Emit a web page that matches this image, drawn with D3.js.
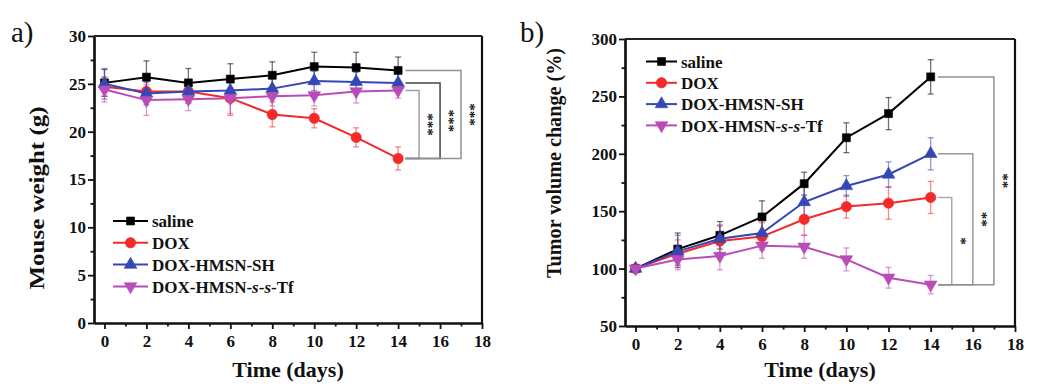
<!DOCTYPE html>
<html><head><meta charset="utf-8">
<script src="https://cdn.jsdelivr.net/npm/d3@7"></script>
<style>
body{margin:0;background:#fff}
svg{display:block}
text{font-family:"Liberation Serif","Times New Roman",serif;font-weight:bold;fill:#111}
</style>
</head><body>
<svg id="c" width="1040" height="385"></svg>
<script>
// ---------- data ----------
const days = [0, 2, 4, 6, 8, 10, 12, 14];
const seriesNames = ["saline", "DOX", "DOX-HMSN-SH", "DOX-HMSN-s-s-Tf"];
const seriesColors = ["#000000", "#f22a2a", "#3447b4", "#b84cb8"];

// panel a: mouse weight (g)
const weightSaline = [25.1, 25.7, 25.1, 25.5, 25.9, 26.8, 26.7, 26.4];
const weightSalineErr = [1.4, 1.7, 1.5, 1.6, 1.4, 1.5, 1.6, 1.4];
const weightDOX = [24.7, 24.2, 24.2, 23.5, 21.8, 21.4, 19.4, 17.2];
const weightDOXErr = [1.0, 1.0, 1.2, 1.8, 1.3, 1.0, 1.0, 1.2];
const weightSH = [25.0, 24.0, 24.2, 24.3, 24.5, 25.3, 25.2, 25.1];
const weightSHErr = [1.6, 1.2, 1.2, 1.2, 1.0, 1.0, 1.0, 1.0];
const weightTf = [24.4, 23.3, 23.4, 23.5, 23.7, 23.8, 24.2, 24.3];
const weightTfErr = [1.3, 1.6, 1.2, 1.6, 1.0, 1.1, 1.2, 0.8];

// panel b: tumor volume change (%)
const tumorSaline = [100, 117, 129, 145, 174, 214, 235, 267];
const tumorSalineErr = [3, 14, 12, 14, 10, 13, 14, 15];
const tumorDOX = [100, 113, 124, 128, 143, 154, 157, 162];
const tumorDOXErr = [3, 12, 13, 12, 14, 10, 14, 14];
const tumorSH = [100, 115, 126, 131, 158, 172, 182, 200];
const tumorSHErr = [3, 14, 12, 12, 13, 9, 11, 14];
const tumorTf = [100, 108, 111, 120, 119, 108, 92, 86];
const tumorTfErr = [3, 9, 12, 11, 10, 10, 9, 8];

// tick labels
const xTicks = [0, 2, 4, 6, 8, 10, 12, 14, 16, 18];
const xMinor = [1, 3, 5, 7, 9, 11, 13, 15, 17];
const weightTicks = [0, 5, 10, 15, 20, 25, 30];
const weightMinor = [2.5, 7.5, 12.5, 17.5, 22.5, 27.5];
const tumorTicks = [50, 100, 150, 200, 250, 300];
const tumorMinor = [75, 125, 175, 225, 275];

// significance: [top series index, bottom series index, bracket x (days), label]
const weightSig = [[3, 1, 15, "***"], [2, 1, 16, "***"], [0, 1, 17, "***"]];
const tumorSig = [[1, 3, 15, "*"], [2, 3, 16, "**"], [0, 3, 17, "**"]];

// ---------- drawing ----------
const svg = d3.select("#c");
const symbols = [d3.symbolSquare, d3.symbolCircle, d3.symbolTriangle, d3.symbolTriangle];
const symbolSizes = [64, 85, 70, 70];
const symbolRot = [0, 0, 0, 180];

function marker(g, i, x, y) {
  g.append("path")
    .attr("d", d3.symbol().type(symbols[i]).size(symbolSizes[i])())
    .attr("transform", `translate(${x},${y}) rotate(${symbolRot[i]})`)
    .attr("fill", seriesColors[i]).attr("stroke", seriesColors[i]).attr("stroke-width", 0.6);
}

function panel(cfg) {
  const x = d3.scaleLinear().domain([-0.5, 18]).range([cfg.left, cfg.right]);
  const y = d3.scaleLinear().domain(cfg.yDomain).range([cfg.bottom, cfg.top]);
  const g = svg.append("g");

  // axes
  const xa = g.append("g").attr("transform", `translate(0,${cfg.bottom})`)
    .call(d3.axisBottom(x).tickValues(xTicks).tickSize(6).tickSizeOuter(0).tickPadding(6));
  const xm = g.append("g").attr("transform", `translate(0,${cfg.bottom})`)
    .call(d3.axisBottom(x).tickValues(xMinor).tickSize(3.5).tickSizeOuter(0).tickFormat(""));
  const ya = g.append("g").attr("transform", `translate(${cfg.left},0)`)
    .call(d3.axisLeft(y).tickValues(cfg.yTicks).tickSize(6).tickSizeOuter(0).tickPadding(2));
  const ym = g.append("g").attr("transform", `translate(${cfg.left},0)`)
    .call(d3.axisLeft(y).tickValues(cfg.yMinor).tickSize(3.5).tickSizeOuter(0).tickFormat(""));
  [xa, xm, ya, ym].forEach(a => {
    a.selectAll(".domain").attr("stroke", "#111").attr("stroke-width", 2.2);
    a.selectAll(".tick line").attr("stroke", "#111").attr("stroke-width", 1.8);
    a.selectAll("text").attr("font-size", 17).attr("font-family", '"Liberation Serif",serif')
      .attr("font-weight", "bold").attr("fill", "#111");
  });
  // top and right frame
  g.append("line").attr("x1", cfg.left).attr("x2", x(18)).attr("y1", cfg.top).attr("y2", cfg.top)
    .attr("stroke", "#222").attr("stroke-width", 2);
  g.append("line").attr("x1", x(18)).attr("x2", x(18)).attr("y1", cfg.top).attr("y2", cfg.bottom)
    .attr("stroke", "#111").attr("stroke-width", 2.2);

  // significance brackets
  cfg.sig.forEach((s, k) => {
    const [ti, bi, bx, lab] = s;
    const yt = y(cfg.data[ti][7]), yb = y(cfg.data[bi][7]);
    const xs = x(14.35), xb = x(bx);
    const col = cfg.sigColors[k];
    g.append("path").attr("d", `M${xs},${yt}H${xb}V${yb}H${xs}`)
      .attr("fill", "none").attr("stroke", col).attr("stroke-width", 1.5);
    g.append("text").attr("transform", `translate(${xb + 4},${(yt + yb) / 2}) rotate(90)`)
      .attr("text-anchor", "middle").attr("font-size", 15).text(lab);
  });

  // error bars, lines, markers
  cfg.data.forEach((vals, i) => {
    const err = cfg.err[i];
    const eg = g.append("g").attr("stroke", seriesColors[i]).attr("stroke-opacity", 0.55).attr("stroke-width", 1.3);
    days.forEach((d, j) => {
      const cx = x(d), y1 = y(vals[j] - err[j]), y2 = y(vals[j] + err[j]);
      eg.append("line").attr("x1", cx).attr("x2", cx).attr("y1", y1).attr("y2", y2);
      eg.append("line").attr("x1", cx - 3).attr("x2", cx + 3).attr("y1", y1).attr("y2", y1);
      eg.append("line").attr("x1", cx - 3).attr("x2", cx + 3).attr("y1", y2).attr("y2", y2);
    });
  });
  cfg.data.forEach((vals, i) => {
    const line = d3.line().x((d, j) => x(days[j])).y(d => y(d));
    g.append("path").datum(vals).attr("d", line).attr("fill", "none")
      .attr("stroke", seriesColors[i]).attr("stroke-width", 2);
    vals.forEach((v, j) => marker(g, i, x(days[j]), y(v)));
  });

  // legend
  seriesNames.forEach((name, i) => {
    const ly = cfg.leg.y + i * cfg.leg.dy;
    g.append("line").attr("x1", cfg.leg.x1).attr("x2", cfg.leg.x2).attr("y1", ly).attr("y2", ly)
      .attr("stroke", seriesColors[i]).attr("stroke-width", 2);
    marker(g, i, (cfg.leg.x1 + cfg.leg.x2) / 2, ly);
    const t = g.append("text").attr("x", cfg.leg.x2 + 4).attr("y", ly).attr("dy", "0.36em").attr("font-size", 17);
    if (name.includes("-s-s-")) {
      t.append("tspan").text("DOX-HMSN-");
      t.append("tspan").attr("font-style", "italic").text("s");
      t.append("tspan").text("-");
      t.append("tspan").attr("font-style", "italic").text("s");
      t.append("tspan").text("-Tf");
    } else t.text(name);
  });

  // titles
  g.append("text").attr("x", (cfg.left + x(18)) / 2).attr("y", 377).attr("text-anchor", "middle")
    .attr("font-size", 22).text("Time (days)");
  g.append("text").attr("transform", `translate(${cfg.yt.x},${cfg.yt.y}) rotate(-90)`)
    .attr("text-anchor", "middle").attr("font-size", cfg.yt.fs)
    .attr("textLength", cfg.yt.len).attr("lengthAdjust", "spacingAndGlyphs").text(cfg.yTitle);
  g.append("text").attr("x", cfg.lab.x).attr("y", cfg.lab.y).attr("font-size", 29)
    .style("font-weight", "normal").text(cfg.label);
}

panel({
  left: 94, right: 482, top: 36, bottom: 323, yDomain: [0, 30],
  yTicks: weightTicks, yMinor: weightMinor,
  data: [weightSaline, weightDOX, weightSH, weightTf],
  err: [weightSalineErr, weightDOXErr, weightSHErr, weightTfErr],
  sig: weightSig, sigColors: ["#a0a0a0", "#444444", "#909090"],
  leg: {x1: 113, x2: 148, y: 221, dy: 21.8},
  yTitle: "Mouse weight (g)", yt: {x: 44, y: 198, fs: 22, len: 183},
  label: "a)", lab: {x: 11, y: 42}
});
panel({
  left: 625, right: 1015, top: 39, bottom: 326, yDomain: [50, 300],
  yTicks: tumorTicks, yMinor: tumorMinor,
  data: [tumorSaline, tumorDOX, tumorSH, tumorTf],
  err: [tumorSalineErr, tumorDOXErr, tumorSHErr, tumorTfErr],
  sig: tumorSig, sigColors: ["#a8a8a8", "#999999", "#909090"],
  leg: {x1: 646, x2: 677, y: 61.5, dy: 21.3},
  yTitle: "Tumor volume change (%)", yt: {x: 561, y: 163, fs: 21, len: 230},
  label: "b)", lab: {x: 520, y: 42}
});
</script>
</body></html>
